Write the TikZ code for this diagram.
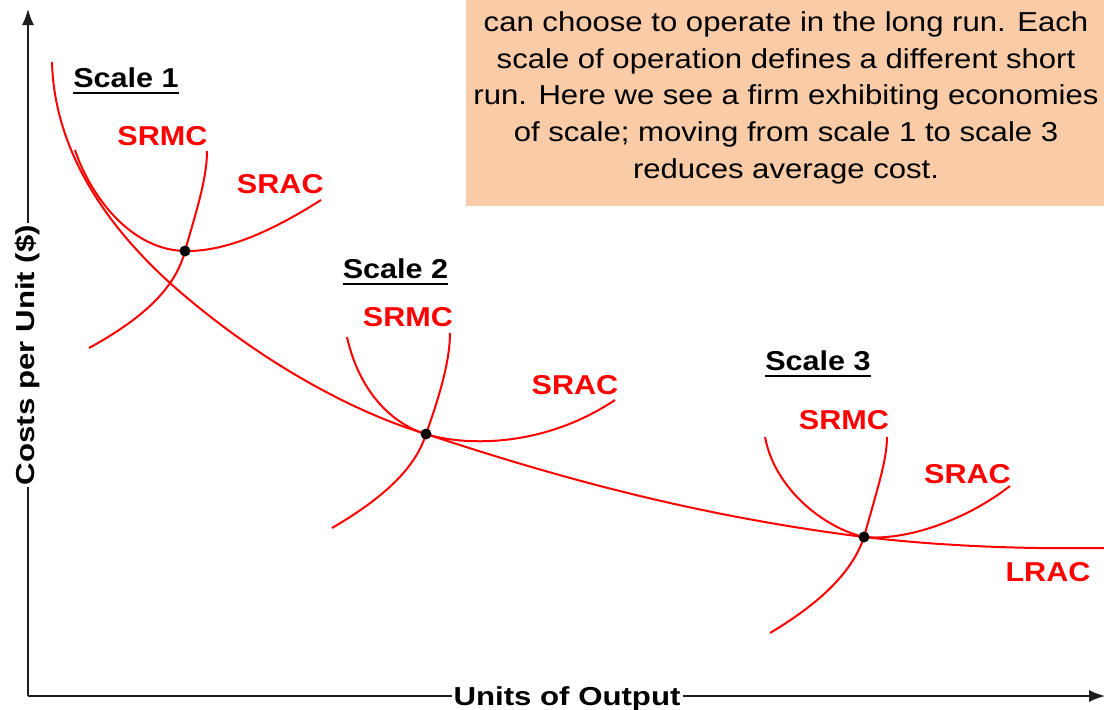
\documentclass[tikz,border=0pt]{standalone}
\usepackage{fontspec}
\setmainfont{Liberation Sans}
\newfontfamily\labfont[FakeStretch=1.12]{Liberation Sans}
\newfontfamily\axfont[FakeStretch=1.2]{Liberation Sans}
\newfontfamily\bxfont[FakeStretch=1.135]{Liberation Sans}
\usetikzlibrary{arrows.meta}
\definecolor{peach}{RGB}{249,203,167}
\definecolor{axisgray}{RGB}{30,30,30}
\tikzset{
  curve/.style={draw=red, line width=2pt},
  redlab/.style={text=red, inner sep=0pt, font=\labfont\bfseries\fontsize{27.3}{30}\selectfont},
  scalelab/.style={text=black, inner sep=0pt, font=\labfont\bfseries\fontsize{27.3}{30}\selectfont},
  uline/.style={draw=black, line width=2pt},
  axislab/.style={fill=white, inner xsep=2pt, inner ysep=0pt, font=\axfont\bfseries\fontsize{26}{30}\selectfont},
  axisline/.style={draw=axisgray, line width=1.5pt},
  boxtext/.style={inner sep=0pt, anchor=base, font=\bxfont\fontsize{27.4}{36.7}\selectfont},
  dot/.style={circle, fill=black, inner sep=0pt, minimum size=11pt},
}
\begin{document}
\begin{tikzpicture}[x=1pt, y=-1pt]
\useasboundingbox (0,0) rectangle (1104,710);
\fill[white] (0,0) rectangle (1104,710);

% text box
\fill[peach] (466,-2) rectangle (1106,206);
\node[boxtext] (t1) at (786,31.5) {can choose to operate in the long run. Each};
\node[boxtext] (t2) at (786,68.2) {scale of operation defines a different short};
\node[boxtext] (t3) at (786,104.9) {run. Here we see a firm exhibiting economies};
\node[boxtext] (t4) at (786,141.6) {of scale; moving from scale 1 to scale 3};
\node[boxtext] (t5) at (786,178.3) {reduces average cost.};

% axes
\coordinate (O) at (28,696);
\coordinate (ytop) at (28,9);
\coordinate (xend) at (1105,696);
\draw[axisline, -{Latex[length=16pt,width=12pt]}] (O) -- (ytop);
\draw[axisline, -{Latex[length=16pt,width=12pt]}] (O) -- (xend);
\node[axislab, anchor=base] (xl) at (567,705) {Units of Output};
\node[axislab, anchor=base, rotate=90] (yl) at (34.5,355) {Costs per Unit (\$)};

% tangency / min points
\coordinate (p1) at (185,251);
\coordinate (p2) at (426,434);
\coordinate (p3) at (864,537);

% LRAC
\draw[curve] (52,62) .. controls (54,140) and (95,215) .. (170,283)
  .. controls (245,350) and (340,408) .. (p2)
  .. controls (550,475) and (690,515) .. (p3)
  .. controls (950,547) and (1030,549) .. (1104,548);

% Scale 1
\draw[curve] (75,150) .. controls (90,195) and (130,250) .. (p1) .. controls (230,252) and (280,226) .. (321,200);
\draw[curve] (89,348) .. controls (140,320) and (175,290) .. (p1) .. controls (195,215) and (207,180) .. (207,151);

% Scale 2
\draw[curve] (347,337) .. controls (360,395) and (395,425) .. (p2) .. controls (460,445) and (540,450) .. (615,400);
\draw[curve] (332,528) .. controls (380,500) and (415,470) .. (p2) .. controls (440,395) and (450,360) .. (450,333);

% Scale 3
\draw[curve] (765,437) .. controls (775,490) and (825,528) .. (p3) .. controls (905,541) and (965,521) .. (1010,486);
\draw[curve] (770,633) .. controls (805,612) and (850,580) .. (p3) .. controls (877,490) and (887,460) .. (887,437);

% dots
\node[dot] (d1) at (p1) {};
\node[dot] (d2) at (p2) {};
\node[dot] (d3) at (p3) {};

% scale labels
\node[scalelab] (s1) at (126,78) {Scale 1};
\node[scalelab] (s2) at (395.5,269) {Scale 2};
\node[scalelab] (s3) at (818,361) {Scale 3};
\draw[uline] ([yshift=-5.5pt]s1.base west) -- ([yshift=-5.5pt]s1.base east);
\draw[uline] ([yshift=-5.5pt]s2.base west) -- ([yshift=-5.5pt]s2.base east);
\draw[uline] ([yshift=-5.5pt]s3.base west) -- ([yshift=-5.5pt]s3.base east);

% curve labels
\node[redlab] (mc1) at (162.5,135.8) {SRMC};
\node[redlab] (ac1) at (280.3,184.5) {SRAC};
\node[redlab] (mc2) at (408,317.5) {SRMC};
\node[redlab] (ac2) at (575,385.3) {SRAC};
\node[redlab] (mc3) at (844,420) {SRMC};
\node[redlab] (ac3) at (967.5,473.8) {SRAC};
\node[redlab] (lr) at (1048,571.7) {LRAC};
\end{tikzpicture}
\end{document}
